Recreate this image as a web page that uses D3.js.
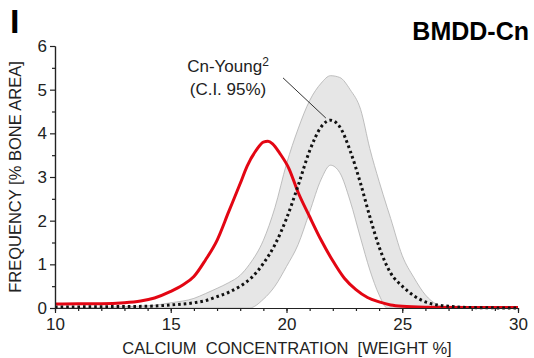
<!DOCTYPE html>
<html>
<head>
	<script src="https://cdn.jsdelivr.net/npm/d3@7"></script>
	<style>
		html, body {
			padding: 0;
			margin: 0;
			background: white;
		}
		text {
			font-family: "Liberation Sans", Arial, sans-serif;
		}
	</style>
</head>
<body>
	<div id="chart"></div>

	<script>
		// patient curve (red)
		var redX = [10, 11, 12, 13, 13.7, 14.3, 15, 15.5, 16, 16.5, 17, 17.5, 18, 18.3, 18.7, 19, 19.2, 19.4, 19.7, 20.1, 20.5, 21, 21.5, 22, 22.5, 23, 23.5, 24, 24.5, 25, 26, 28, 30];
		var redY = [0.09, 0.1, 0.1, 0.12, 0.16, 0.23, 0.38, 0.52, 0.72, 1.1, 1.55, 2.2, 2.85, 3.25, 3.62, 3.8, 3.82, 3.76, 3.55, 3.2, 2.65, 2.09, 1.55, 1.08, 0.68, 0.42, 0.24, 0.14, 0.07, 0.04, 0.02, 0.01, 0.01];

		// reference mean (dotted)
		var meanX = [10, 12, 14, 15, 16, 16.5, 17, 17.5, 18, 18.5, 19, 19.5, 20, 20.5, 21, 21.5, 21.9, 22.3, 22.75, 23.2, 23.6, 24, 24.5, 25, 25.5, 26, 26.5, 27, 28, 30];
		var meanY = [0.02, 0.03, 0.04, 0.07, 0.12, 0.17, 0.26, 0.36, 0.5, 0.7, 1.02, 1.45, 2.05, 2.8, 3.6, 4.15, 4.3, 4.15, 3.6, 2.85, 2.09, 1.4, 0.8, 0.5, 0.28, 0.14, 0.07, 0.04, 0.01, 0];

		// 95% confidence band
		var bandX = [10, 14, 15, 16, 16.5, 17, 17.5, 18, 18.4, 19, 19.5, 20, 20.5, 21, 21.5, 21.9, 22.3, 22.75, 23.2, 23.6, 24, 24.35, 24.5, 25, 25.5, 26, 26.5, 27, 30];
		var bandHi = [0, 0.05, 0.12, 0.22, 0.33, 0.45, 0.58, 0.75, 1.0, 1.55, 2.3, 3.3, 4.1, 4.75, 5.15, 5.32, 5.28, 5.0, 4.55, 3.65, 2.9, 2.3, 2.05, 1.2, 0.7, 0.3, 0.08, 0.01, 0];
		var bandLo = [0, 0, 0, 0, 0, 0, 0, 0, 0, 0.2, 0.5, 0.95, 1.45, 2.2, 2.95, 3.27, 3.1, 2.45, 1.6, 0.87, 0.3, 0, 0, 0, 0, 0, 0, 0, 0];

		var xTicks = [10, 15, 20, 25, 30];
		var yTicks = [0, 1, 2, 3, 4, 5, 6];

		var width = 534, height = 358;
		var margin = {left: 55, right: 16, top: 46, bottom: 50};

		var svg = d3.select('#chart').append('svg')
			.attr('width', width)
			.attr('height', height);

		var x = d3.scaleLinear().domain([10, 30]).range([margin.left, width - margin.right]);
		var y = d3.scaleLinear().domain([0, 6]).range([height - margin.bottom, margin.top]);

		// grey band
		var band = bandX.map(function(v, i) { return {x: v, lo: bandLo[i], hi: bandHi[i]}; });
		svg.append('path')
			.datum(band)
			.attr('fill', '#e6e6e6')
			.attr('d', d3.area().curve(d3.curveMonotoneX)
				.x(function(d) { return x(d.x); })
				.y0(function(d) { return y(d.lo); })
				.y1(function(d) { return y(d.hi); }));
		['hi', 'lo'].forEach(function(k) {
			svg.append('path')
				.datum(band)
				.attr('fill', 'none')
				.attr('stroke', '#b0b0b0')
				.attr('stroke-width', 0.8)
				.attr('d', d3.line().curve(d3.curveMonotoneX)
					.x(function(d) { return x(d.x); })
					.y(function(d) { return y(d[k]); }));
		});

		// red patient curve
		svg.append('path')
			.datum(redX.map(function(v, i) { return [v, redY[i]]; }))
			.attr('fill', 'none')
			.attr('stroke', '#e30613')
			.attr('stroke-width', 3)
			.attr('stroke-linejoin', 'round')
			.attr('d', d3.line().curve(d3.curveMonotoneX)
				.x(function(d) { return x(d[0]); })
				.y(function(d) { return y(d[1]); }));

		// dotted mean curve
		svg.append('path')
			.datum(meanX.map(function(v, i) { return [v, meanY[i]]; }))
			.attr('fill', 'none')
			.attr('stroke', '#111')
			.attr('stroke-width', 3)
			.attr('stroke-dasharray', '2.6,3')
			.attr('d', d3.line().curve(d3.curveMonotoneX)
				.x(function(d) { return x(d[0]); })
				.y(function(d) { return y(d[1]); }));

		// axes
		svg.append('g')
			.attr('transform', 'translate(0,' + y(0) + ')')
			.call(d3.axisBottom(x).tickValues(xTicks).tickSize(5).tickPadding(5).tickSizeOuter(0));
		svg.append('g')
			.attr('transform', 'translate(0,' + y(0) + ')')
			.call(d3.axisBottom(x).tickValues(d3.range(10, 31, 1)).tickSize(3).tickFormat('').tickSizeOuter(0));
		svg.append('g')
			.attr('transform', 'translate(' + x(10) + ',0)')
			.call(d3.axisLeft(y).tickValues(yTicks).tickFormat(d3.format('d')).tickSize(5).tickPadding(3).tickSizeOuter(0));
		svg.append('g')
			.attr('transform', 'translate(' + x(10) + ',0)')
			.call(d3.axisLeft(y).tickValues(d3.range(0.5, 6, 1)).tickSize(3).tickFormat('').tickSizeOuter(0));

		svg.selectAll('.domain, .tick line').attr('stroke', '#222').attr('stroke-width', 1.2);
		svg.selectAll('.tick text')
			.attr('fill', '#222')
			.style('font-size', '17px')
			.style('font-family', '"Liberation Sans", Arial, sans-serif');

		// axis titles
		svg.append('text')
			.attr('x', 287).attr('y', 354)
			.attr('text-anchor', 'middle')
			.style('font-size', '16.5px')
			.attr('fill', '#222')
			.attr('xml:space', 'preserve')
			.text('CALCIUM  CONCENTRATION  [WEIGHT %]');
		svg.append('text')
			.attr('transform', 'translate(21,' + y(3) + ') rotate(-90)')
			.attr('text-anchor', 'middle')
			.style('font-size', '16.5px')
			.attr('fill', '#222')
			.text('FREQUENCY [% BONE AREA]');

		// panel letter and title
		svg.append('text')
			.attr('x', 10).attr('y', 33)
			.style('font-size', '34px')
			.style('font-weight', 'bold')
			.text('I');
		svg.append('text')
			.attr('x', 529).attr('y', 40)
			.attr('text-anchor', 'end')
			.style('font-size', '25px')
			.style('font-weight', 'bold')
			.text('BMDD-Cn');

		// annotation
		var lab = svg.append('text')
			.attr('x', 228).attr('y', 72)
			.attr('text-anchor', 'middle')
			.style('font-size', '17px')
			.attr('fill', '#222');
		lab.append('tspan').text('Cn-Young');
		lab.append('tspan').attr('dy', -6).style('font-size', '12px').text('2');
		svg.append('text')
			.attr('x', 228).attr('y', 95)
			.attr('text-anchor', 'middle')
			.style('font-size', '17px')
			.attr('fill', '#222')
			.text('(C.I. 95%)');
		svg.append('line')
			.attr('x1', x(19.85)).attr('y1', y(5.27))
			.attr('x2', x(21.7)).attr('y2', y(4.35))
			.attr('stroke', '#333')
			.attr('stroke-width', 1);
	</script>
</body>
</html>
